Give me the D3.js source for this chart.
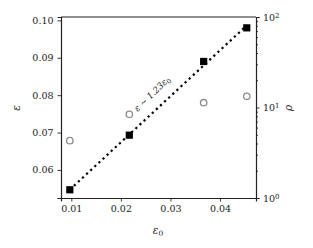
<!DOCTYPE html>
<html lang="en">
<head>
<meta charset="utf-8">
<script src="https://d3js.org/d3.v7.min.js"></script>
<style>
  body { margin: 0; background: #fff; }
  text { font-family: "DejaVu Serif", "Liberation Serif", serif; }
</style>
</head>
<body>
<div id="chart"></div>
<script>
// data
let eps0 = [0.0097, 0.0217, 0.0367, 0.0454];
let eps = [0.0547, 0.0693, 0.0890, 0.0980];
let rho = [4.3, 8.4, 11.3, 13.3];
let xTicks = [0.01, 0.02, 0.03, 0.04];
let yTicks = [0.06, 0.07, 0.08, 0.09, 0.10];
let rhoTicks = [1, 10, 100];
let fitSlope = 1.23;
let fitIntercept = 0.0428;

let width = 313, height = 248;
let margin = {top: 17, right: 57, bottom: 50, left: 61};
let innerW = width - margin.left - margin.right;
let innerH = height - margin.top - margin.bottom;

let svg = d3.select("#chart").append("svg")
    .attr("width", width).attr("height", height);
let g = svg.append("g")
    .attr("transform", "translate(" + margin.left + "," + margin.top + ")");

let x = d3.scaleLinear().domain([0.00792, 0.04726]).range([0, innerW]);
let y = d3.scaleLinear().domain([0.0525, 0.1009]).range([innerH, 0]);
let yr = d3.scaleLog().domain([1, 100]).range([innerH, 0]);

// axes
let xAxis = g.append("g").attr("transform", "translate(0," + innerH + ")")
    .call(d3.axisBottom(x).tickValues(xTicks).tickFormat(d3.format(".2f")).tickSize(3.5).tickPadding(4));
let yAxis = g.append("g")
    .call(d3.axisLeft(y).tickValues(yTicks).tickFormat(d3.format(".2f")).tickSize(3.5).tickPadding(4));

let minor = [];
for (let k = 1; k <= 10; k *= 10) for (let m = 2; m <= 9; m++) minor.push(k * m);
let rAxis = g.append("g").attr("transform", "translate(" + innerW + ",0)")
    .call(d3.axisRight(yr).tickValues(rhoTicks).tickFormat("").tickSize(3.5));
g.append("g").attr("transform", "translate(" + innerW + ",0)")
    .call(d3.axisRight(yr).tickValues(minor).tickFormat("").tickSize(2))
    .select(".domain").remove();

[xAxis, yAxis, rAxis].forEach(function(a) {
  a.selectAll("path.domain").attr("stroke", "#222").attr("stroke-width", 1.2);
  a.selectAll("text").attr("font-size", 9.5).attr("fill", "#222")
      .style("font-family", "'DejaVu Serif', serif");
});
g.selectAll(".tick line").attr("stroke", "#222").attr("stroke-width", 0.9);

// top spine
g.append("line").attr("x1", 0).attr("x2", innerW).attr("y1", 0).attr("y2", 0)
    .attr("stroke", "#222").attr("stroke-width", 1.2);

// right tick labels 10^n
rAxis.selectAll(".tick").each(function(d) {
  let t = d3.select(this).append("text").attr("x", 7).attr("dy", "0.35em")
      .attr("fill", "#222").attr("font-size", 9.5).attr("text-anchor", "start");
  t.append("tspan").text("10");
  t.append("tspan").attr("dy", "-0.45em").attr("font-size", 7).text(Math.round(Math.log10(d)));
});

// fit line
let fitX = [eps0[0], eps0[eps0.length - 1]];
g.append("path")
    .attr("d", d3.line()(fitX.map(function(v) { return [x(v), y(fitSlope * v + fitIntercept)]; })))
    .attr("stroke", "#000").attr("stroke-width", 2.2)
    .attr("stroke-dasharray", "2.2,3.4").attr("fill", "none");

// rho circles
g.selectAll("circle.rho").data(eps0).enter().append("circle")
    .attr("cx", function(d) { return x(d); })
    .attr("cy", function(d, i) { return yr(rho[i]); })
    .attr("r", 3.2).attr("fill", "none").attr("stroke", "#8c8c8c").attr("stroke-width", 1.3);

// eps squares
g.selectAll("rect.eps").data(eps0).enter().append("rect")
    .attr("x", function(d) { return x(d) - 3.6; })
    .attr("y", function(d, i) { return y(eps[i]) - 3.6; })
    .attr("width", 7.2).attr("height", 7.2).attr("fill", "#000");

// annotation
let ann = g.append("text")
    .attr("transform", "translate(76.5,95) rotate(-44)")
    .attr("font-size", 8.8).attr("fill", "#222").attr("font-style", "italic");
ann.append("tspan").text("ε ∼ 1.23ε");
ann.append("tspan").attr("dy", "0.3em").attr("font-size", 6.5).attr("font-style", "normal").text("0");

// axis labels
svg.append("text").attr("transform", "translate(20,108) rotate(-90)")
    .attr("text-anchor", "middle").attr("font-size", 10.5).attr("font-style", "italic").attr("fill", "#222").text("ε");
svg.append("text").attr("transform", "translate(292,108) rotate(-90)")
    .attr("text-anchor", "middle").attr("font-size", 10.5).attr("font-style", "italic").attr("fill", "#222").text("ρ");
let xl = svg.append("text").attr("x", 158).attr("y", 234)
    .attr("text-anchor", "middle").attr("font-size", 10.5).attr("fill", "#222");
xl.append("tspan").attr("font-style", "italic").text("ε");
xl.append("tspan").attr("dy", "0.3em").attr("font-size", 7.5).text("0");
</script>
</body>
</html>
